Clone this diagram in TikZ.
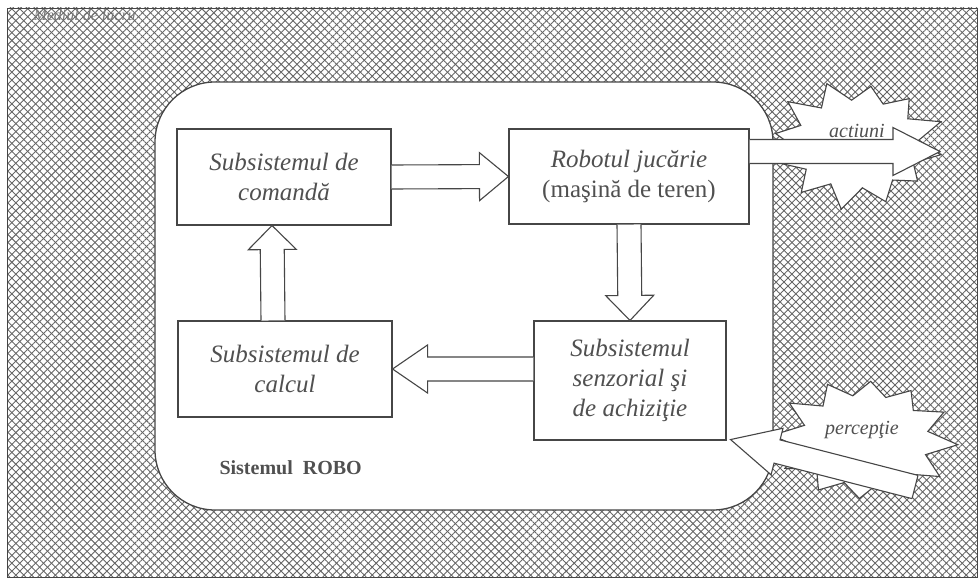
\documentclass[tikz,border=0pt]{standalone}
\usepackage{fontspec}
\setmainfont{Liberation Serif}
\usepackage{tikz}
\usetikzlibrary{calc,patterns.meta}
\definecolor{rbInk}{HTML}{464646}
\definecolor{rbText}{HTML}{505050}
\definecolor{rbHatch}{HTML}{666666}
\definecolor{rbFaint}{HTML}{777777}
\tikzset{
  rb diagram/.style={x=1pt, y=-1pt, line join=miter, text=rbText},
  rb hatch/.style={pattern={Lines[angle=45,distance=5.6pt,line width=0.9pt]},
    pattern color=rbHatch},
  rb hatch back/.style={pattern={Lines[angle=-45,distance=5.6pt,line width=0.9pt]},
    pattern color=rbHatch},
  rb frame/.style={draw=rbInk, fill=white, line width=1.3pt, rounded corners=60pt,
    inner sep=0pt},
  rb box/.style={draw=rbInk, fill=white, line width=1.1pt, align=center,
    inner sep=0pt, font=\fontsize{25}{30}\selectfont\itshape},
  rb block/.style={draw=rbInk, fill=white, line width=1.1pt},
  rb burst/.style={draw=rbInk, fill=white, line width=1.1pt},
  rb label/.style={font=\fontsize{20}{24}\selectfont\itshape, text=rbText},
  rb title/.style={font=\fontsize{20}{24}\selectfont\bfseries, text=rbText},
  rb corner/.style={font=\fontsize{16}{18}\selectfont\itshape, text=rbFaint}
}
% open block arrow: [head length]{tail}{tip}
\newcommand{\blockarrow}[3][28pt]{%
  \coordinate (ba head) at ($(#3)!#1!(#2)$);
  \filldraw[rb block] ($(#2)!12pt!90:(#3)$) -- ($(ba head)!12pt!90:(#3)$)
    -- ($(ba head)!24pt!90:(#3)$) -- (#3) -- ($(ba head)!24pt!-90:(#3)$)
    -- ($(ba head)!12pt!-90:(#3)$) -- ($(#2)!12pt!-90:(#3)$);
}
\begin{document}
\begin{tikzpicture}[rb diagram]
\useasboundingbox (0,0) rectangle (980,583);
% working environment
\fill[rb hatch] (7,8) rectangle (977,577);
\fill[rb hatch back] (7,8) rectangle (977,577);
\draw[rbInk, line width=0.8pt] (7,8) rectangle (977,577);
\node[rb corner, anchor=west] (env) at (30,15) {Mediul de lucru};
\node[rb frame, minimum width=618pt, minimum height=428pt] (robo) at (464,296) {};
% bursts
\draw[rb burst] plot[samples at={0,...,23}, variable=\k]
  ({857+(isodd(\k) ? 62 : 85*(1+0.07*sin(\k*137)))*cos(\k*15+10)},
   {144+(isodd(\k) ? 44 : 62*(1+0.07*sin(\k*137)))*sin(\k*15+10)}) -- cycle;
\draw[rb burst] plot[samples at={0,...,23}, variable=\k]
  ({865+(isodd(\k) ? 64 : 87*(1+0.07*cos(\k*151)))*cos(\k*15+4)},
   {440+(isodd(\k) ? 45 : 63*(1+0.07*cos(\k*151)))*sin(\k*15+4)}) -- cycle;
% subsystems
\node[rb box, minimum width=214pt, minimum height=96pt] (cmd) at (284,177)
  {Subsistemul de\\comandă};
\node[rb box, minimum width=240pt, minimum height=95pt] (rob) at (629,176.5)
  {Robotul jucărie\\\upshape(maşină de teren)};
\node[rb box, minimum width=214pt, minimum height=96pt] (calc) at (285,369)
  {Subsistemul de\\calcul};
\node[rb box, minimum width=192pt, minimum height=119pt] (sen) at (630,380.5)
  {Subsistemul\\senzorial şi\\de achiziţie};
\node[rb title, anchor=west] (title) at (216,468) {Sistemul\enspace ROBO};
% flows
\blockarrow[29pt]{cmd.east}{rob.west}
\blockarrow[25pt]{rob.south}{sen.north}
\coordinate (left tail) at (sen.west |- calc.east);
\blockarrow[35pt]{left tail}{calc.east}
\coordinate (up tail) at ($(calc.north)+(-12,0)$);
\coordinate (up tip) at ($(cmd.south)+(-12,0)$);
\blockarrow[24pt]{up tail}{up tip}
\coordinate (act tail) at ($(rob.east)+(0,-25)$);
\coordinate (act tip) at (940,151.5);
\blockarrow[47pt]{act tail}{act tip}
\node[rb label] (act) at (857,131) {actiuni};
\coordinate (per tip) at ($(sen.south east)+(4,-1)$);
\coordinate (per tail) at (915,487);
\blockarrow[48pt]{per tail}{per tip}
\draw[rb block] ($(per tail)!12pt!90:(per tip)$) -- ($(per tail)!12pt!-90:(per tip)$);
\node[rb label] (per) at (862,430) {percepţie};
\end{tikzpicture}
\end{document}
